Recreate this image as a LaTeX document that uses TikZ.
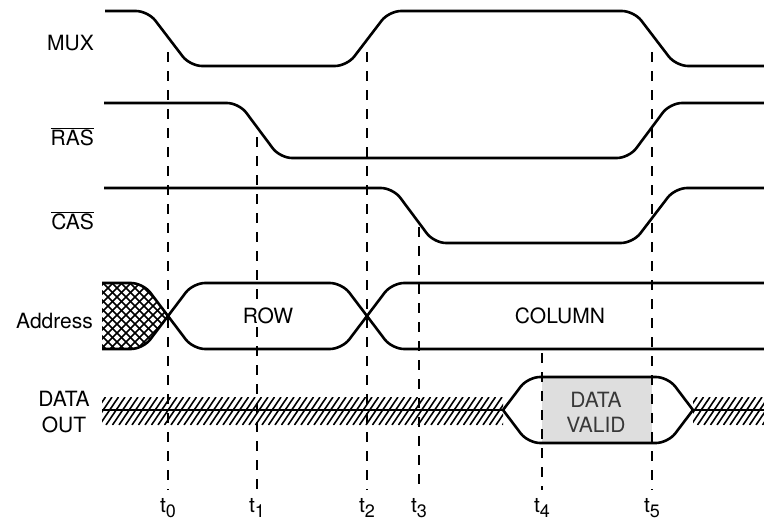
\documentclass[tikz,border=0pt]{standalone}
\usepackage{fontspec}
\setmainfont{TeX Gyre Heros}
\definecolor{validgray}{HTML}{DEDEDE}
\definecolor{validtext}{HTML}{383838}

\begin{document}
\begin{tikzpicture}[
  x=1pt,y=-1pt,
  sig/.style={line width=2.6pt,rounded corners=12pt,line join=round},
  tline/.style={line width=1.4pt,dash pattern=on 10pt off 9pt},
  hatch/.style={line width=1.6pt},
  lbl/.style={font=\fontsize{21}{26}\selectfont,inner sep=0pt,align=center},
  tlbl/.style={font=\fontsize{21}{24}\selectfont,inner sep=0pt,anchor=base}
]
\useasboundingbox (0,0) rectangle (764,522);
\fill[validgray] (542,378) rectangle (652,442);
\begin{scope}
  \clip[rounded corners=12pt] (95,283) -- (143,283) -- (193,349) -- (193,380) -- (95,380) -- cycle;
  \clip[rounded corners=12pt] (95,349) -- (143,349) -- (193,283) -- (193,250) -- (95,250) -- cycle;
  \clip (102,270) rectangle (200,360);
  \foreach \k in {0,9,...,300} {
    \draw[hatch] (\k,270) -- ++(90,90);
    \draw[hatch] (\k,270) -- ++(-90,90);
  }
\end{scope}
\begin{scope}
  \clip (102,397) rectangle (503,425) (693,397) rectangle (764,425);
  \foreach \k in {80,86.5,...,770} \draw[hatch] (\k,425) -- ++(19,-28);
\end{scope}
\draw[sig] (105,11) -- (148,11) -- (190,66) -- (347,66) -- (389,11) -- (634,11) -- (676,66) -- (764,66);
\draw[sig] (104,103) -- (239,103) -- (280,158) -- (629,158) -- (670,103) -- (764,103);
\draw[sig] (104,188) -- (393,188) -- (434,243) -- (633,243) -- (675,188) -- (764,188);
\draw[sig] (102,283) -- (143,283) -- (193,349) -- (342,349) -- (392,283) -- (764,283);
\draw[sig] (102,349) -- (143,349) -- (193,283) -- (342,283) -- (392,349) -- (764,349);
\draw[sig] (102,410) -- (503,410);
\draw[sig] (693,410) -- (764,410);
\draw[sig] (503,410) -- (528,377) -- (668,377) -- (693,410);
\draw[sig] (503,410) -- (528,443) -- (668,443) -- (693,410);
\foreach \x/\ys/\n in {168/52/0,257/137/1,367/52/2,419/227/3,542/353/4,652/52/5} {
  \draw[tline] (\x,\ys) -- (\x,490);
  \node[tlbl] (t\n) at (\x,512) {t\raisebox{-5pt}{\fontsize{18}{18}\selectfont\n}};
}
\node[lbl,anchor=base east] (mux) at (94,50) {MUX};
\node[lbl,anchor=base east] (ras) at (94,145) {$\overline{\mbox{RAS}}$};
\node[lbl,anchor=base east] (cas) at (94,229) {$\overline{\mbox{CAS}}$};
\node[lbl,anchor=base east] (addr) at (93,328) {Address};
\node[lbl] (dout) at (64,412.5) {DATA\\OUT};
\node[lbl,text=validtext,font=\fontsize{21}{24.5}\selectfont] (valid) at (596,412.5) {DATA\\VALID};
\node[lbl,fill=white,inner xsep=2pt,inner ysep=3pt] (row) at (268,316) {ROW};
\node[lbl] (col) at (560,316) {COLUMN};
\end{tikzpicture}
\end{document}
